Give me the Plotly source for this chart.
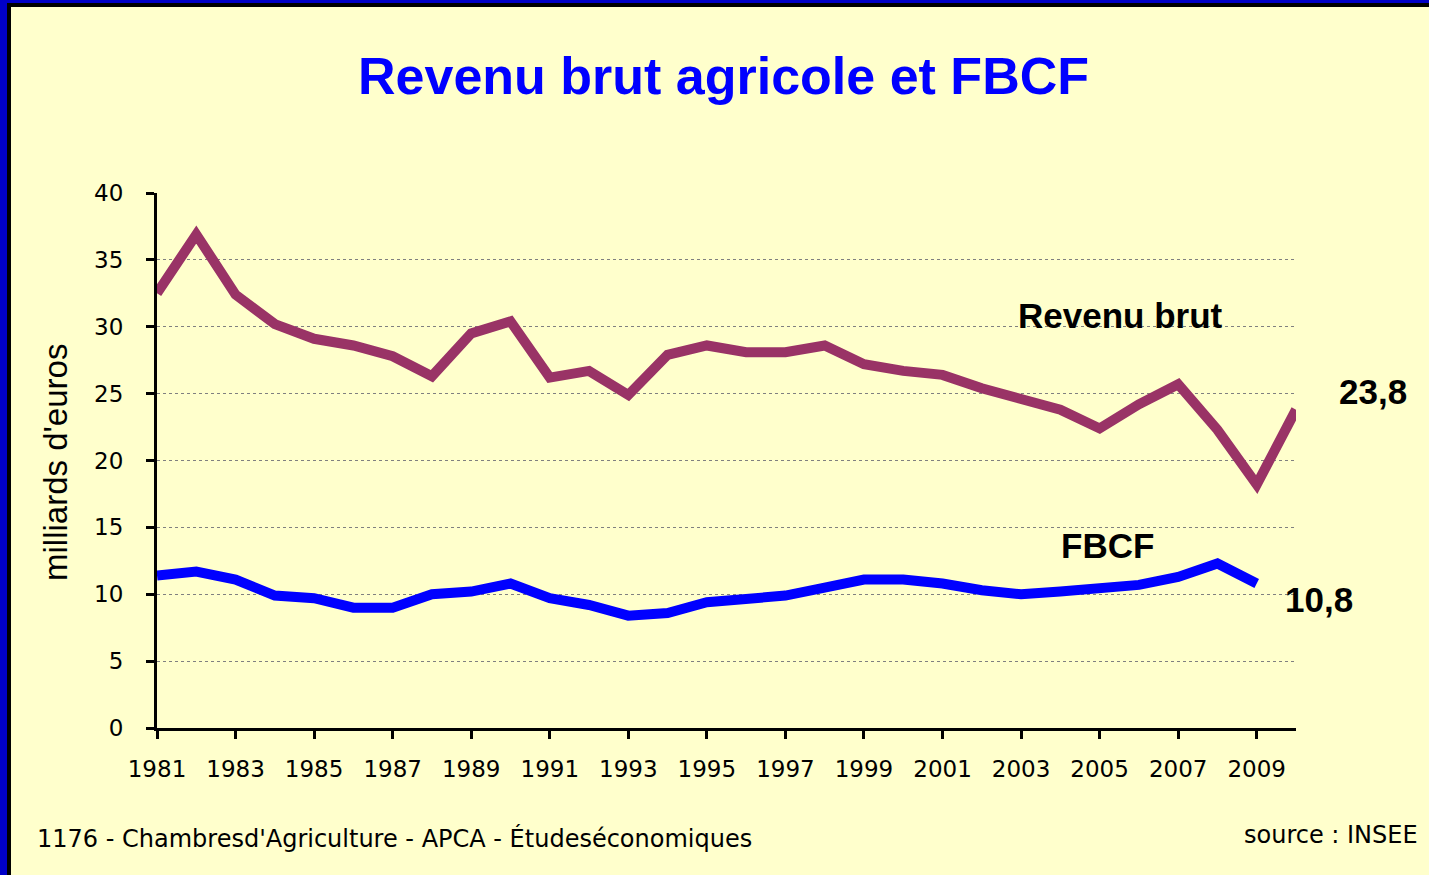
import plotly.graph_objects as go

# ---- data ----
years_rb = list(range(1981, 2011))
revenu_brut = [32.5, 36.9, 32.4, 30.2, 29.1, 28.6, 27.8, 26.3, 29.5, 30.4,
               26.2, 26.7, 24.9, 27.9, 28.6, 28.1, 28.1, 28.6, 27.2, 26.7,
               26.4, 25.4, 24.6, 23.8, 22.4, 24.2, 25.7, 22.3, 18.2, 23.8]
years_fb = list(range(1981, 2010))
fbcf = [11.4, 11.7, 11.1, 9.9, 9.7, 9.0, 9.0, 10.0, 10.2, 10.8,
        9.7, 9.2, 8.4, 8.6, 9.4, 9.6, 9.9, 10.5, 11.1, 11.1,
        10.8, 10.3, 10.0, 10.2, 10.5, 10.7, 11.3, 12.3, 10.8]
x_ticks = list(range(1981, 2010, 2))
y_ticks = list(range(0, 41, 5))

W, H = 1429, 875
L, R, T, B = 157, 133, 193, 147
PW, PH = W - L - R, H - T - B


def px(x):
    return (x - L) / PW


def py(y):
    return (H - B - y) / PH


fig = go.Figure()
fig.add_trace(go.Scatter(x=years_rb, y=revenu_brut, mode="lines",
                         line=dict(color="#993366", width=10), name="Revenu brut"))
fig.add_trace(go.Scatter(x=years_fb, y=fbcf, mode="lines",
                         line=dict(color="#0000FF", width=10), name="FBCF"))

shapes = [
    # blue frame (left and top) with inner black line
    dict(type="rect", xref="paper", yref="paper", x0=px(0), x1=px(7), y0=py(H), y1=py(0),
         fillcolor="#0000C8", line=dict(width=0), layer="below"),
    dict(type="rect", xref="paper", yref="paper", x0=px(0), x1=px(W), y0=py(3), y1=py(0),
         fillcolor="#0000C8", line=dict(width=0), layer="below"),
    dict(type="rect", xref="paper", yref="paper", x0=px(7), x1=px(11), y0=py(H), y1=py(3),
         fillcolor="#000000", line=dict(width=0), layer="below"),
    dict(type="rect", xref="paper", yref="paper", x0=px(7), x1=px(W), y0=py(7), y1=py(3),
         fillcolor="#000000", line=dict(width=0), layer="below"),
]

tick_font = dict(family="DejaVu Sans, Liberation Sans, Arial", size=23, color="black")
label_font = dict(family="Liberation Sans, Arial", size=35, color="black")
foot_font = dict(family="DejaVu Sans, Liberation Sans", size=24, color="black")

annotations = [
    dict(text="<b>Revenu brut agricole et FBCF</b>", xref="paper", yref="paper",
         x=px(723), y=py(76), showarrow=False, xanchor="center", yanchor="middle",
         font=dict(family="Liberation Sans, Arial", size=52, color="#0000FF")),
    dict(text="milliards d'euros", xref="paper", yref="paper", x=px(55), y=py(463),
         textangle=-90, showarrow=False, xanchor="center", yanchor="middle",
         font=dict(family="Liberation Sans, Arial", size=33, color="black")),
    dict(text="<b>Revenu brut</b>", xref="paper", yref="paper", x=px(1120), y=py(315),
         showarrow=False, xanchor="center", yanchor="middle", font=label_font),
    dict(text="<b>FBCF</b>", xref="paper", yref="paper", x=px(1107), y=py(545),
         showarrow=False, xanchor="center", yanchor="middle", font=label_font),
    dict(text="<b>23,8</b>", x=years_rb[-1], y=revenu_brut[-1], xref="x", yref="y",
         xshift=77, yshift=18, showarrow=False, xanchor="center", yanchor="middle", font=label_font),
    dict(text="<b>10,8</b>", x=years_fb[-1], y=fbcf[-1], xref="x", yref="y",
         xshift=62, yshift=-16, showarrow=False, xanchor="center", yanchor="middle", font=label_font),
    dict(text="1176 - Chambresd'Agriculture - APCA - Étudeséconomiques", xref="paper", yref="paper",
         x=px(35), y=py(838), showarrow=False, xanchor="left", yanchor="middle", font=foot_font),
    dict(text="source : INSEE", xref="paper", yref="paper",
         x=px(1420), y=py(835), showarrow=False, xanchor="right", yanchor="middle", font=foot_font),
]

fig.update_layout(
    width=W, height=H,
    margin=dict(l=L, r=R, t=T, b=B, pad=0),
    paper_bgcolor="#FFFFCC", plot_bgcolor="#FFFFCC",
    showlegend=False,
    shapes=shapes,
    annotations=annotations,
    xaxis=dict(range=[1981, 2010], tickvals=x_ticks, ticktext=[str(v) for v in x_ticks],
               showgrid=False, zeroline=False, showline=True, linecolor="black", linewidth=3,
               ticks="outside", ticklen=8, tickwidth=3, tickcolor="black",
               tickfont=tick_font, ticklabelstandoff=10),
    yaxis=dict(range=[0, 40], tickvals=y_ticks, showgrid=True, gridcolor="#808080",
               gridwidth=1, griddash="dot", zeroline=False, showline=True,
               linecolor="black", linewidth=3, ticks="outside", ticklen=8, tickwidth=3,
               tickcolor="black", tickfont=tick_font, ticklabelstandoff=18),
)

fig.write_html("out.html", config={"displayModeBar": False},
               post_script="document.body.style.margin='0';document.body.style.overflow='hidden';")
